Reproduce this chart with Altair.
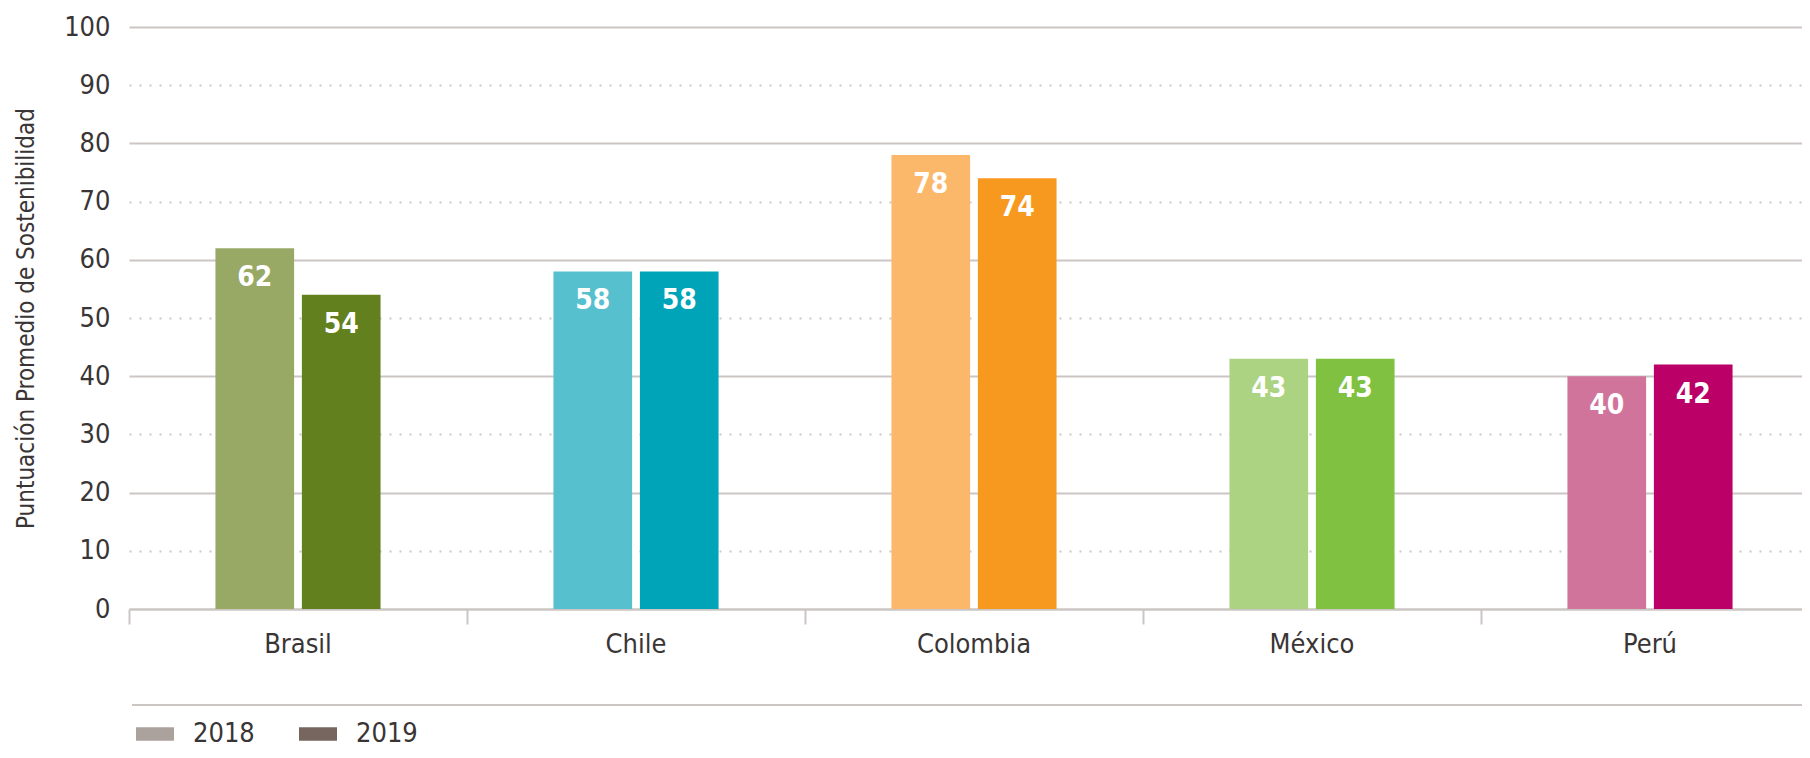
import altair as alt
import pandas as pd

countries = ["Brasil", "Chile", "Colombia", "México", "Perú"]
years = ["2018", "2019"]
values_2018 = [62, 58, 78, 43, 40]
values_2019 = [54, 58, 74, 43, 42]
colors_2018 = ["#98a865", "#57c0cf", "#fbb86b", "#acd381", "#d0749b"]
colors_2019 = ["#63801f", "#00a4b8", "#f7991f", "#80c142", "#bb0067"]
legend_colors = ["#aca29d", "#76665f"]

rows = []
for i, c in enumerate(countries):
    rows.append({"country": c, "year": "2018", "value": values_2018[i], "key": c + "-2018"})
    rows.append({"country": c, "year": "2019", "value": values_2019[i], "key": c + "-2019"})
df = pd.DataFrame(rows)
keys = list(df["key"])
key_colors = []
for i in range(len(countries)):
    key_colors += [colors_2018[i], colors_2019[i]]

FONT = "DejaVu Sans Condensed, DejaVu Sans, sans-serif"
TEXT = "#3a3535"
GRID = "#cbc6c3"
W = 1673
H = 582
STEP_RANGE = 1690
FS = 27

x_enc = alt.X(
    "country:N",
    sort=countries,
    title=None,
    scale=alt.Scale(range=[0, STEP_RANGE], paddingInner=0, paddingOuter=0),
    axis=alt.Axis(
        bandPosition=0,
        labelAngle=0,
        labelFont=FONT,
        labelFontSize=FS,
        labelColor=TEXT,
        labelPadding=7,
        tickSize=15,
        tickColor=GRID,
        tickWidth=2,
        domainColor=GRID,
        domainWidth=2,
        grid=False,
    ),
)
xoff = alt.XOffset(
    "year:N",
    sort=years,
    scale=alt.Scale(paddingInner=0.09, paddingOuter=1),
)
y_enc = alt.Y(
    "value:Q",
    scale=alt.Scale(domain=[0, 100], nice=False),
    title="Puntuación Promedio de Sostenibilidad",
    axis=alt.Axis(
        values=list(range(0, 101, 10)),
        domain=False,
        ticks=False,
        labelFont=FONT,
        labelFontSize=FS,
        labelColor=TEXT,
        labelPadding=19,
        titleFont=FONT,
        titleFontSize=24,
        titleFontWeight="normal",
        titleColor=TEXT,
        titleX=-103,
        titleY=H / 2,
        titleAngle=270,
        titleBaseline="middle",
        titleAlign="center",
        gridColor=GRID,
        gridWidth=2,
        gridDash={"condition": {"test": "datum.value % 20 !== 0", "value": [2, 8]}, "value": []},
    ),
)

bars = alt.Chart(df).mark_bar().encode(
    x=x_enc,
    xOffset=xoff,
    y=y_enc,
    fill=alt.Fill("key:N", scale=alt.Scale(domain=keys, range=key_colors), legend=None),
)

legend_layer = alt.Chart(df).mark_bar(opacity=0).encode(
    x=alt.X("country:N", sort=countries),
    xOffset=alt.XOffset("year:N", sort=years),
    y=alt.Y("value:Q"),
    color=alt.Color(
        "year:N",
        scale=alt.Scale(domain=years, range=legend_colors),
        legend=alt.Legend(
            title=None,
            orient="none",
            direction="horizontal",
            legendX=7,
            legendY=688,
            symbolType="M-1,-0.35H1V0.35H-1Z",
            symbolSize=1444,
            symbolOpacity=1,
            symbolStrokeWidth=0,
            labelFont=FONT,
            labelFontSize=FS,
            labelColor=TEXT,
            labelOffset=19,
            columnPadding=44,
        ),
    ),
)

labels = alt.Chart(df).mark_text(
    color="white",
    font=FONT,
    fontSize=28,
    fontWeight="bold",
    baseline="alphabetic",
    align="center",
    dy=38,
).encode(
    x=alt.X("country:N", sort=countries),
    xOffset=alt.XOffset("year:N", sort=years),
    y=alt.Y("value:Q"),
    text=alt.Text("value:Q"),
)

sep = alt.Chart(alt.Data(values=[{"a": 1}])).mark_rule(color=GRID, strokeWidth=2).encode(
    x=alt.value(3), x2=alt.value(W), y=alt.value(678)
)

chart = alt.layer(bars, legend_layer, labels, sep).resolve_scale(
    color="independent", fill="independent"
).properties(
    width=W,
    height=H,
    autosize=alt.AutoSizeParams(type="none"),
    padding={"left": 121, "top": 19, "right": 0, "bottom": 141},
).configure_view(stroke=None)

chart.save("out.html", embed_options={"renderer": "svg", "actions": False})
